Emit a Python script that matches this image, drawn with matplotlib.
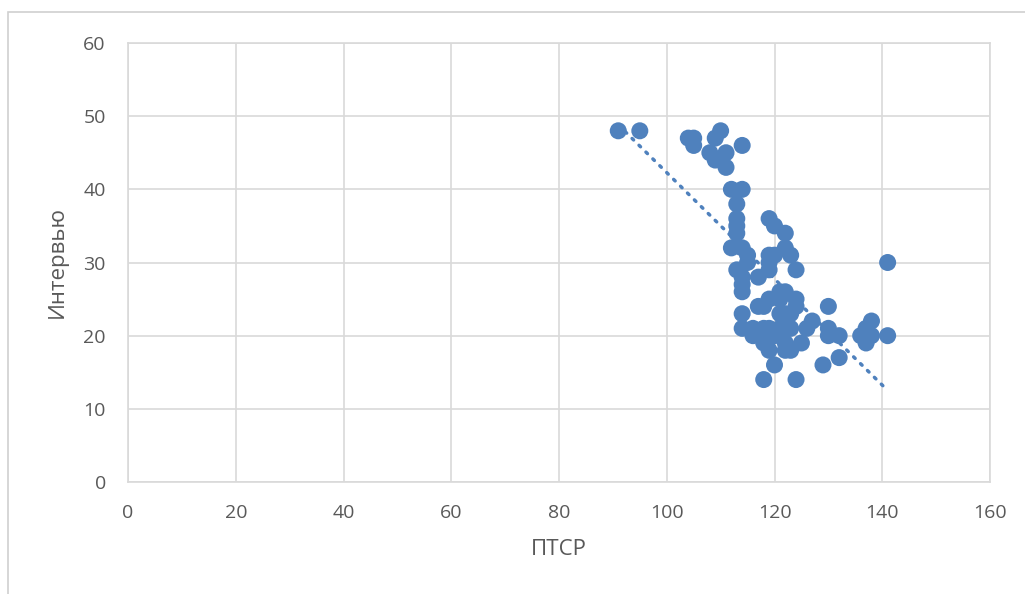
import numpy as np
import matplotlib
matplotlib.use("Agg")
import matplotlib.pyplot as plt
from matplotlib.patches import Rectangle

plt.rcParams['font.family'] = ['Open Sans', 'DejaVu Sans']

# ПТСР (x) and Интервью (y) values
ptsr = [91, 95, 104, 105, 105, 110, 109, 108, 109, 111, 111, 114,
        112, 114, 113, 113, 113, 113, 112, 114, 115, 115, 113, 114, 114, 114,
        119, 120, 122, 122, 123, 119, 120, 119, 119, 124, 117, 121, 122,
        119, 121, 124, 124, 117, 118, 130, 114, 121, 122, 127, 126, 123, 121,
        114, 116, 118, 119, 130, 130, 132, 118, 119, 122, 122, 125, 120, 118,
        124, 129, 132, 137, 138, 136, 137, 138, 141, 141, 116, 120, 123, 123]
interview = [48, 48, 47, 47, 46, 48, 47, 45, 44, 45, 43, 46,
             40, 40, 38, 36, 35, 34, 32, 32, 31, 30, 29, 28, 27, 26,
             36, 35, 34, 32, 31, 31, 31, 30, 29, 29, 28, 26, 26,
             25, 25, 25, 24, 24, 24, 24, 23, 23, 23, 22, 21, 21, 21,
             21, 20, 21, 21, 21, 20, 20, 19, 18, 19, 18, 19, 16, 14,
             14, 16, 17, 21, 22, 20, 19, 20, 20, 30, 21, 20, 23, 18]

x_ticks = [0, 20, 40, 60, 80, 100, 120, 140, 160]
y_ticks = [0, 10, 20, 30, 40, 50, 60]

blue = '#4F81BD'
grid = '#D9D9D9'
text = '#595959'

fig = plt.figure(figsize=(10.25, 5.94), dpi=100)
# chart frame: only left and top edges are visible in the crop
fig.patches.append(Rectangle((8 / 1025, -0.1), 1.2, 1.1 - 12 / 594,
                             transform=fig.transFigure, fill=False,
                             edgecolor='#D0D0D0', linewidth=1.2))

ax = fig.add_axes([128 / 1025, 112 / 594, 862 / 1025, 439 / 594])
ax.set_xlim(0, 160)
ax.set_ylim(0, 60)
ax.set_xticks(x_ticks)
ax.set_yticks(y_ticks)
ax.grid(True, color=grid, linewidth=1.2)
ax.set_axisbelow(True)
for s in ax.spines.values():
    s.set_color(grid)
    s.set_linewidth(1.2)
ax.tick_params(length=0, labelsize=14, colors=text)
ax.tick_params(axis='x', pad=16)
ax.tick_params(axis='y', pad=16)

ax.scatter(ptsr, interview, s=150, color=blue, edgecolors='none', zorder=3)

# linear trend line
k, b = np.polyfit(ptsr, interview, 1)
xs = np.array([min(ptsr), max(ptsr)])
ax.plot(xs, k * xs + b, color=blue, linewidth=2.5,
        linestyle=(0, (0.6, 2.2)), dash_capstyle='round', zorder=4)

ax.set_xlabel('ПТСР', fontsize=16, color=text, labelpad=12)
ax.set_ylabel('Интервью', fontsize=16, color=text, labelpad=11)

fig.savefig('out.png', dpi=100)
